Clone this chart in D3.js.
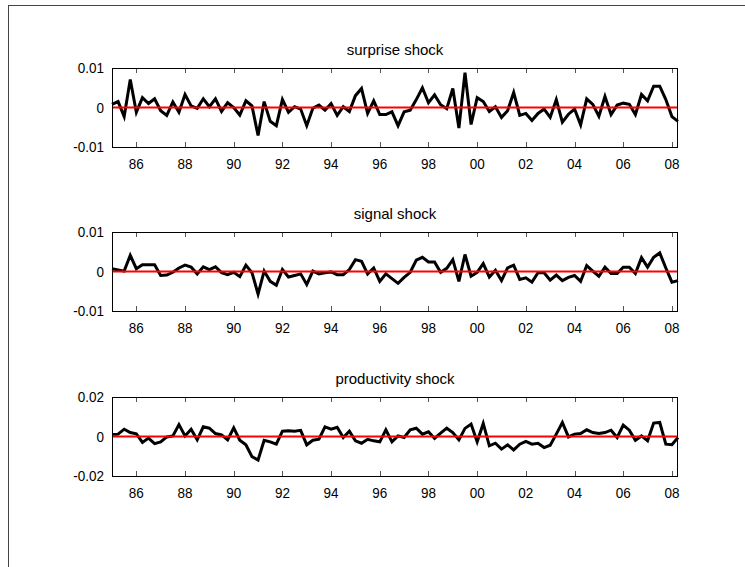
<!DOCTYPE html>
<html>
<head>
<meta charset="utf-8">
<script src="https://cdn.jsdelivr.net/npm/d3@7"></script>
<style>
  body { margin: 0; background: #fff; }
  svg { display: block; }
  text { font-family: "Liberation Sans", Arial, sans-serif; fill: #000; }
</style>
</head>
<body>
<svg id="chart" width="745" height="567"></svg>
<script>
// quarterly shocks, 1985Q1 .. 2008Q2
const startYear = 1985
const titles = ["surprise shock", "signal shock", "productivity shock"]
const yLimits = [0.01, 0.01, 0.02]
const yTickLabels = [["0.01", "0", "-0.01"], ["0.01", "0", "-0.01"], ["0.02", "0", "-0.02"]]
const xTicks = [1986, 1988, 1990, 1992, 1994, 1996, 1998, 2000, 2002, 2004, 2006, 2008]

const surprise = [
  0.0008, 0.0015, -0.0023, 0.0071, -0.0012, 0.0025, 0.0010, 0.0022, -0.0008, -0.0020,
  0.0014, -0.0012, 0.0033, 0.0004, -0.0002, 0.0022, 0.0002, 0.0022, -0.0010, 0.0012,
  0.0000, -0.0019, 0.0017, 0.0004, -0.0071, 0.0015, -0.0035, -0.0046, 0.0020, -0.0012,
  0.0002, -0.0004, -0.0046, -0.0002, 0.0006, -0.0007, 0.0010, -0.0020, 0.0002, -0.0010,
  0.0030, 0.0048, -0.0015, 0.0017, -0.0018, -0.0018, -0.0011, -0.0046, -0.0011, -0.0007,
  0.0020, 0.0050, 0.0012, 0.0032, 0.0007, -0.0003, 0.0048, -0.0052, 0.0088, -0.0043,
  0.0025, 0.0015, -0.0010, 0.0002, -0.0025, -0.0008, 0.0038, -0.0020, -0.0015, -0.0033,
  -0.0015, -0.0004, -0.0025, 0.0020, -0.0037, -0.0017, -0.0004, -0.0044, 0.0022, 0.0008,
  -0.0022, 0.0028, -0.0018, 0.0006, 0.0011, 0.0008, -0.0018, 0.0033, 0.0017, 0.0054,
  0.0054, 0.0020, -0.0023, -0.0035
]
const signal = [
  0.0007, 0.0004, 0.0001, 0.0041, 0.0007, 0.0017, 0.0017, 0.0017, -0.0010, -0.0009,
  -0.0002, 0.0009, 0.0016, 0.0011, -0.0006, 0.0012, 0.0005, 0.0012, -0.0003, -0.0008,
  -0.0002, -0.0013, 0.0016, -0.0003, -0.0057, 0.0001, -0.0025, -0.0035, 0.0005, -0.0014,
  -0.0010, -0.0006, -0.0033, 0.0001, -0.0006, -0.0003, -0.0001, -0.0008, -0.0008, 0.0005,
  0.0030, 0.0026, -0.0006, 0.0009, -0.0025, -0.0006, -0.0018, -0.0030, -0.0015, -0.0002,
  0.0029, 0.0036, 0.0024, 0.0024, -0.0002, 0.0008, 0.0030, -0.0025, 0.0043, -0.0012,
  -0.0002, 0.0020, -0.0014, 0.0003, -0.0023, 0.0009, 0.0016, -0.0020, -0.0016, -0.0027,
  -0.0003, -0.0003, -0.0022, -0.0009, -0.0023, -0.0015, -0.0010, -0.0025, 0.0015, 0.0001,
  -0.0012, 0.0011, -0.0005, -0.0005, 0.0011, 0.0011, -0.0005, 0.0035, 0.0011, 0.0036,
  0.0047, 0.0009, -0.0027, -0.0023
]
const productivity = [
  0.0010, 0.0012, 0.0037, 0.0020, 0.0014, -0.0030, -0.0008, -0.0036, -0.0027, -0.0002,
  0.0003, 0.0060, 0.0003, 0.0037, -0.0017, 0.0049, 0.0042, 0.0015, 0.0008, -0.0017,
  0.0044, -0.0019, -0.0042, -0.0102, -0.0119, -0.0019, -0.0027, -0.0039, 0.0027, 0.0029,
  0.0027, 0.0031, -0.0042, -0.0019, -0.0014, 0.0049, 0.0037, 0.0047, -0.0005, 0.0027,
  -0.0022, -0.0034, -0.0014, -0.0022, -0.0027, 0.0034, -0.0027, 0.0003, -0.0005, 0.0034,
  0.0042, 0.0012, 0.0024, -0.0010, 0.0017, 0.0042, 0.0020, -0.0017, 0.0041, 0.0063,
  -0.0027, 0.0066, -0.0047, -0.0034, -0.0064, -0.0042, -0.0068, -0.0039, -0.0025, -0.0039,
  -0.0034, -0.0056, -0.0044, 0.0012, 0.0071, -0.0002, 0.0012, 0.0015, 0.0034, 0.0020,
  0.0015, 0.0020, 0.0032, -0.0005, 0.0058, 0.0032, -0.0019, 0.0003, -0.0022, 0.0068,
  0.0071, -0.0039, -0.0042, -0.0005
]
const seriesList = [surprise, signal, productivity]

const svg = d3.select("#chart")

// outer frame
svg.append("rect")
    .attr("x", 8.5).attr("y", 5.5)
    .attr("width", 760).attr("height", 600)
    .attr("fill", "none").attr("stroke", "#444").attr("stroke-width", 1)

const left = 112, right = 678
const panelTops = [68, 232, 397]
const panelH = 79

const x = d3.scaleLinear().domain([startYear, 2008.25]).range([left, right])

seriesList.forEach((data, p) => {
    const top = panelTops[p], bottom = top + panelH
    const lim = yLimits[p]
    const y = d3.scaleLinear().domain([-lim, lim]).range([bottom, top])
    const g = svg.append("g")

    // title
    g.append("text")
        .attr("x", (left + right) / 2).attr("y", top - 13)
        .attr("text-anchor", "middle")
        .style("font-size", "15px")
        .text(titles[p])

    // ticks on top and bottom, pointing inward
    const tickG = g.append("g").attr("stroke", "#555").attr("stroke-width", 1)
    xTicks.forEach(t => {
        const tx = Math.round(x(t)) + 0.5
        tickG.append("line").attr("x1", tx).attr("x2", tx).attr("y1", top).attr("y2", top + 5)
        tickG.append("line").attr("x1", tx).attr("x2", tx).attr("y1", bottom).attr("y2", bottom - 5)
    })

    // x tick labels
    g.selectAll(".xlab").data(xTicks).enter()
        .append("text")
        .attr("class", "xlab")
        .attr("transform", d => `translate(${x(d)},${bottom + 22}) scale(0.9,1)`)
        .attr("text-anchor", "middle")
        .style("font-size", "15px")
        .text(d => String(d % 100).padStart(2, "0"))

    // y tick labels
    const yVals = [lim, 0, -lim]
    g.selectAll(".ylab").data(yVals).enter()
        .append("text")
        .attr("class", "ylab")
        .attr("transform", d => `translate(${left - 8},${y(d)}) scale(0.9,1)`)
        .attr("text-anchor", "end")
        .attr("dy", "0.36em")
        .style("font-size", "15px")
        .text((d, i) => yTickLabels[p][i])

    // series line
    const line = d3.line()
        .x((d, i) => x(startYear + i / 4))
        .y(d => y(d))
    g.append("path")
        .datum(data)
        .attr("d", line)
        .attr("fill", "none")
        .attr("stroke", "#000")
        .attr("stroke-width", 3)
        .attr("stroke-linejoin", "miter")

    // zero line
    g.append("line")
        .attr("x1", left).attr("x2", right)
        .attr("y1", y(0)).attr("y2", y(0))
        .attr("stroke", "#ff0000").attr("stroke-width", 1.8)

    // plot box
    g.append("rect")
        .attr("x", left + 0.5).attr("y", top + 0.5)
        .attr("width", right - left - 1).attr("height", panelH)
        .attr("fill", "none").attr("stroke", "#000").attr("stroke-width", 1)
})
</script>
</body>
</html>
